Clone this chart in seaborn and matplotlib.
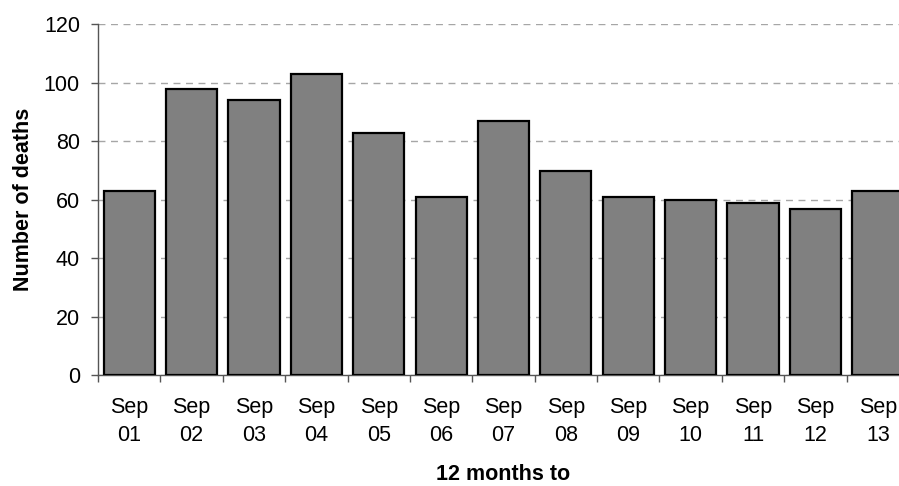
import matplotlib
matplotlib.use("Agg")
import matplotlib.pyplot as plt
import seaborn as sns
import pandas as pd
import numpy as np

categories = ["Sep\n01", "Sep\n02", "Sep\n03", "Sep\n04", "Sep\n05", "Sep\n06", "Sep\n07",
              "Sep\n08", "Sep\n09", "Sep\n10", "Sep\n11", "Sep\n12", "Sep\n13"]
deaths = [63, 98, 94, 103, 83, 61, 87, 70, 61, 60, 59, 57, 63]
y_ticks = [0, 20, 40, 60, 80, 100, 120]

sns.set_theme(style="white")
plt.rcParams['font.family'] = ['Liberation Sans', 'DejaVu Sans']

df = pd.DataFrame({"period": categories, "deaths": deaths})

fig = plt.figure(figsize=(8.99, 4.86), dpi=100)
ax = fig.add_axes([98/899, 111/486, 811/899, 350.5/486])

sns.barplot(data=df, x="period", y="deaths", color="#808080", saturation=1,
            edgecolor="black", linewidth=1.6, width=0.82, ax=ax, zorder=3)

fs = 15.5
ax.set_xlim(-0.5, len(categories) - 0.5)
ax.set_ylim(0, 120)
ax.set_yticks(y_ticks)
ax.set_yticklabels([str(v) for v in y_ticks], fontsize=fs, color="black")
ax.yaxis.grid(True, linestyle=(0, (5, 4)), color="#a6a6a6", linewidth=1.0, zorder=0)
ax.xaxis.grid(False)

ax.set_xticks(range(len(categories)))
ax.set_xticklabels(categories, fontsize=fs, color="black", linespacing=1.45)
ax.set_xticks(np.arange(-0.5, len(categories), 1.0), minor=True)
ax.tick_params(axis="x", which="major", length=0, pad=16)
ax.tick_params(axis="x", which="minor", length=5, width=1, color="#555555", direction="out", bottom=True)
ax.tick_params(axis="y", which="major", length=5, width=1, color="#555555", direction="out", left=True, pad=8)

for s in ["top", "right"]:
    ax.spines[s].set_visible(False)
ax.spines["left"].set_color("#555555")
ax.spines["left"].set_linewidth(1.0)
ax.spines["bottom"].set_color("#555555")
ax.spines["bottom"].set_linewidth(1.0)

ax.set_ylabel("Number of deaths", fontsize=fs, fontweight="bold", labelpad=7, color="black")
ax.set_xlabel("12 months to", fontsize=fs, fontweight="bold", labelpad=12.5, color="black")

fig.savefig("out.png", dpi=100)
